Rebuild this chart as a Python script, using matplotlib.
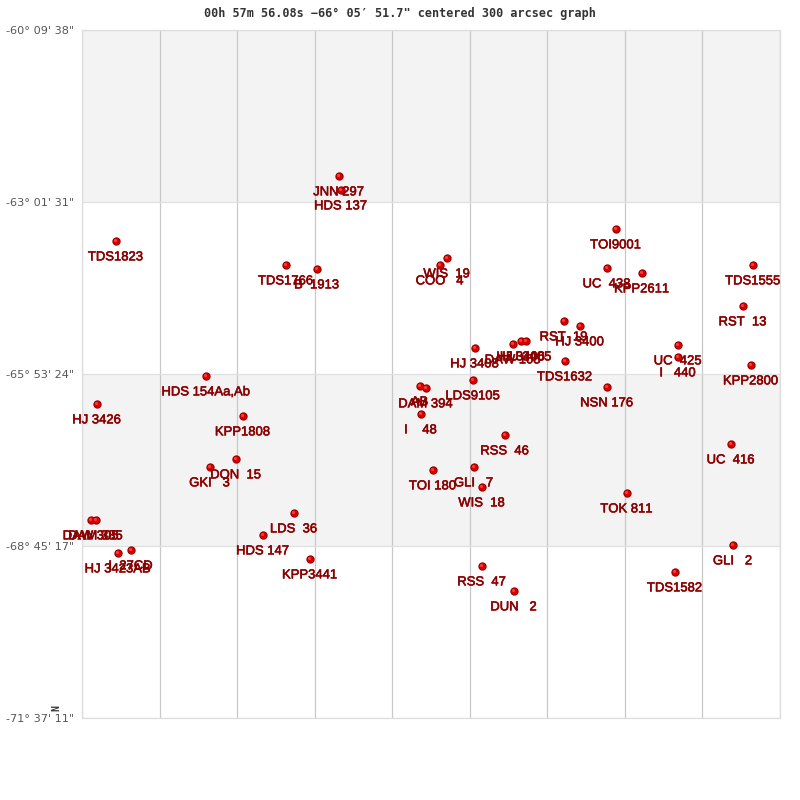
import matplotlib
matplotlib.use("Agg")
import matplotlib.pyplot as plt
import matplotlib.patheffects as pe
from matplotlib.patches import Rectangle

plt.rcParams["text.kerning_factor"] = 6

title = "00h 57m 56.08s \u221266\u00b0 05\u2032 51.7\" centered 300 arcsec graph"
y_ticks = [30, 202, 374, 546, 718]
y_labels = ['-60\u00b0 09\' 38"', '-63\u00b0 01\' 31"', '-65\u00b0 53\' 24"', '-68\u00b0 45\' 17"', '-71\u00b0 37\' 11"']
x_ticks = [82, 160, 237, 315, 392, 470, 547, 625, 702, 780]

names = ["JNN 297", "HDS 137", "TDS1823", "TOI9001", "TDS1766", "B  1913", "WIS  19", "COO   4",
         "UC  438", "KPP2611", "TDS1555", "RST  13", "RST  19", "HJ 3400", "HJ 3408", "DAW 105",
         "HJ 3406", "HU 3405", "UC  425", "I   440", "KPP2800", "TDS1632", "NSN 176", "LDS9105",
         "AB", "DAM 394", "I    48", "RSS  46", "KPP1808", "HJ 3426", "HDS 154Aa,Ab", "DON  15",
         "GKI   3", "TOI 180", "GLI   7", "WIS  18", "UC  416", "TOK 811", "LDS  36", "HDS 147",
         "KPP3441", "DAW 305", "DAM 385", "I  27CD", "HJ 3423AB", "GLI   2", "TDS1582", "RSS  47", "DUN   2"]
star_x = [339, 341, 116, 616, 286, 317, 447, 440, 607, 642, 753, 743, 564, 580, 475, 513, 521, 526, 678, 678, 751,
          565, 607, 473, 420, 426, 421, 505, 243, 97, 206, 236, 210, 433, 474, 482, 731, 627, 294, 263, 310, 91, 96,
          131, 118, 733, 675, 482, 514]
star_y = [176, 190, 241, 229, 265, 269, 258, 265, 268, 273, 265, 306, 321, 326, 348, 344, 341, 341, 345, 357, 365,
          361, 387, 380, 386, 388, 414, 435, 416, 404, 376, 459, 467, 470, 467, 487, 444, 493, 513, 535, 559, 520, 520,
          550, 553, 545, 572, 566, 591]

fig = plt.figure(figsize=(8, 8), dpi=100, facecolor="white")
ax = fig.add_axes([82 / 800, 1 - 718 / 800, 698 / 800, 688 / 800])
ax.set_xlim(82, 780)
ax.set_ylim(718, 30)

ax.add_patch(Rectangle((82, 30), 698, 172, fc="#f3f3f3", ec="none", zorder=0))
ax.add_patch(Rectangle((82, 374), 698, 172, fc="#f3f3f3", ec="none", zorder=0))

ax.set_xticks(x_ticks)
ax.set_xticklabels([])
ax.set_yticks(y_ticks)
ax.set_yticklabels(y_labels, fontsize=8.1, color="#555555", family="DejaVu Sans")
ax.tick_params(length=0, pad=5.8)
ax.grid(axis="x", color="#c8c8c8", lw=0.9, zorder=1)
ax.grid(axis="y", color="#e0e0e0", lw=0.9, zorder=1)
for s in ax.spines.values():
    s.set_color("#dddddd")
    s.set_linewidth(0.9)
ax.set_axisbelow(True)

ax.scatter(star_x, star_y, s=36, c="#8f0000", linewidths=0, zorder=3)
ax.scatter([v - 0.3 for v in star_x], [v - 0.3 for v in star_y], s=22, c="#d60000", linewidths=0, zorder=4)
ax.scatter([v - 0.8 for v in star_x], [v - 1.0 for v in star_y], s=5, c="#ff3a3a", linewidths=0, zorder=5)

for n, x, y in zip(names, star_x, star_y):
    ax.annotate(n, (x - 0.5, y), xytext=(0, -11.8), textcoords="offset points", ha="center", va="center",
                fontsize=9.4, color="#8b0000", family="Liberation Sans",
                path_effects=[pe.withStroke(linewidth=0.4, foreground="#8b0000")],
                annotation_clip=False, zorder=6)

fig.text(400 / 800, 1 - 13 / 800, title, ha="center", va="center", fontsize=8.45,
         family="DejaVu Sans Mono", weight="bold", color="#333333")
fig.text(56 / 800, 1 - 708 / 800, "N", rotation=90, ha="center", va="center", fontsize=7,
         family="DejaVu Sans Mono", weight="bold", color="#333333")

fig.savefig("out.png", dpi=100)
